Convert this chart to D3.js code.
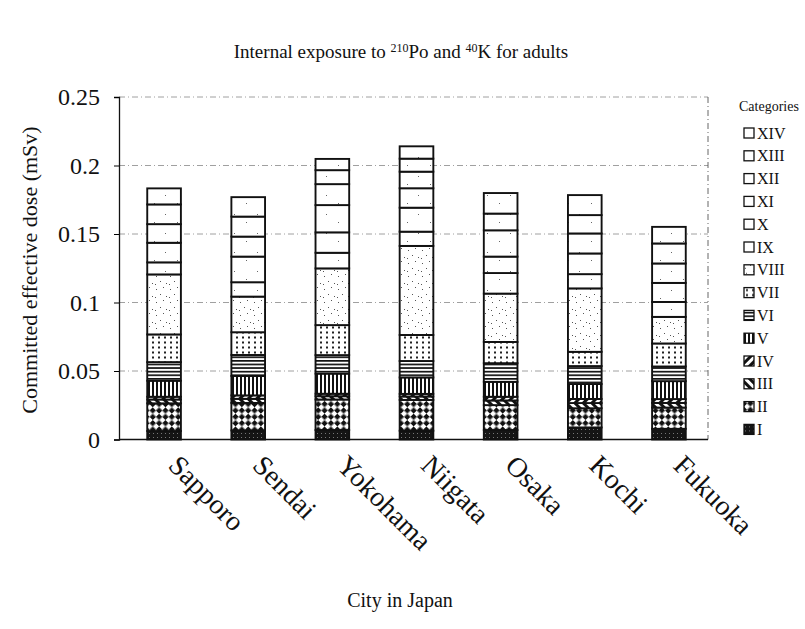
<!DOCTYPE html>
<html><head><meta charset="utf-8">
<script src="https://cdn.jsdelivr.net/npm/d3@7"></script>
<style>body{margin:0;background:#fff}svg text{font-family:"Liberation Serif","Times New Roman",serif;fill:#111}</style>
</head><body>
<svg id="chart" width="805" height="629"></svg>
<script>
// ---- data ----
const cities = ["Sapporo","Sendai","Yokohama","Niigata","Osaka","Kochi","Fukuoka"];
const categories = ["I","II","III","IV","V","VI","VII","VIII","IX","X","XI","XII","XIII","XIV"];
const catI    = [0.0062, 0.0066, 0.0069, 0.0064, 0.0069, 0.0088, 0.0078];
const catII   = [0.0202, 0.0201, 0.0223, 0.0225, 0.0182, 0.0140, 0.0155];
const catIII  = [0.0028, 0.0030, 0.0024, 0.0025, 0.0034, 0.0038, 0.0034];
const catIV   = [0.0020, 0.0025, 0.0018, 0.0019, 0.0027, 0.0030, 0.0028];
const catV    = [0.0117, 0.0142, 0.0147, 0.0120, 0.0109, 0.0109, 0.0131];
const catVI   = [0.0136, 0.0153, 0.0135, 0.0120, 0.0136, 0.0131, 0.0107];
const catVII  = [0.0202, 0.0166, 0.0219, 0.0190, 0.0155, 0.0104, 0.0168];
const catVIII = [0.0438, 0.0260, 0.0414, 0.0650, 0.0353, 0.0463, 0.0194];
const catIX   = [0.0088, 0.0105, 0.0114, 0.0104, 0.0150, 0.0104, 0.0109];
const catX    = [0.0143, 0.0187, 0.0149, 0.0175, 0.0120, 0.0151, 0.0139];
const catXI   = [0.0136, 0.0146, 0.0199, 0.0142, 0.0192, 0.0146, 0.0142];
const catXII  = [0.0144, 0.0146, 0.0153, 0.0121, 0.0122, 0.0134, 0.0146];
const catXIII = [0.0117, 0.0142, 0.0102, 0.0095, 0.0150, 0.0146, 0.0121];
const catXIV  = [0.0000, 0.0000, 0.0082, 0.0090, 0.0000, 0.0000, 0.0000];
const yTicks = [0, 0.05, 0.1, 0.15, 0.2, 0.25];
const yTickLabels = ["0", "0.05", "0.1", "0.15", "0.2", "0.25"];

const seriesValues = [catI,catII,catIII,catIV,catV,catVI,catVII,catVIII,catIX,catX,catXI,catXII,catXIII,catXIV];
const table = cities.map((c, i) => {
  const row = {city: c};
  categories.forEach((k, j) => row[k] = seriesValues[j][i]);
  return row;
});

// ---- layout ----
const svg = d3.select("#chart");
const frame = {left: 119, right: 708, top: 97, bottom: 439.5};
const x = d3.scaleBand().domain(cities).range([122, 711]).paddingInner(0.6).paddingOuter(0.3);
const y = d3.scaleLinear().domain([0, 0.25]).range([frame.bottom, frame.top]);

// ---- patterns ----
const defs = svg.append("defs");
function pat(id, w, h, build, transform) {
  const p = defs.append("pattern").attr("id", id).attr("patternUnits", "userSpaceOnUse")
    .attr("width", w).attr("height", h);
  if (transform) p.attr("patternTransform", transform);
  p.append("rect").attr("width", w).attr("height", h).attr("fill", "#fff");
  build(p);
}
pat("pI", 4, 4, p => {
  p.append("rect").attr("width", 4).attr("height", 4).attr("fill", "#151515");
  p.append("rect").attr("x", 1).attr("y", 1).attr("width", 1).attr("height", 1).attr("fill", "#777");
});
pat("pII", 9, 9, p => {
  p.append("rect").attr("width", 4.5).attr("height", 4.5).attr("fill", "#111");
  p.append("rect").attr("x", 4.5).attr("y", 4.5).attr("width", 4.5).attr("height", 4.5).attr("fill", "#111");
}, "rotate(45)");
pat("pIII", 6, 6, p => {
  p.append("rect").attr("width", 3).attr("height", 6).attr("fill", "#111");
}, "rotate(-45)");
pat("pIV", 6, 6, p => {
  p.append("rect").attr("width", 3).attr("height", 6).attr("fill", "#111");
}, "rotate(45)");
pat("pV", 4, 4, p => {
  p.append("rect").attr("width", 2).attr("height", 4).attr("fill", "#111");
});
pat("pVI", 4, 3.6, p => {
  p.append("rect").attr("width", 4).attr("height", 1.7).attr("fill", "#111");
});
pat("pVII", 6, 5, p => {
  p.append("rect").attr("x", 2).attr("y", 1.5).attr("width", 2).attr("height", 2).attr("fill", "#222");
});
pat("pVIII", 14, 13, p => {
  [[2,3],[9,1],[6,8],[12,10],[1,11]].forEach(d =>
    p.append("rect").attr("x", d[0]).attr("y", d[1]).attr("width", 1).attr("height", 1).attr("fill", "#555"));
});
pat("pUp", 23, 19, p => {
  [[4,5],[16,13]].forEach(d =>
    p.append("rect").attr("x", d[0]).attr("y", d[1]).attr("width", 1).attr("height", 1).attr("fill", "#666"));
});
const fills = {I:"pI",II:"pII",III:"pIII",IV:"pIV",V:"pV",VI:"pVI",VII:"pVII",VIII:"pVIII",
  IX:"pUp",X:"pUp",XI:"pUp",XII:"pUp",XIII:"pUp",XIV:"pUp"};

// ---- grid ----
const grid = svg.append("g");
grid.selectAll("line.h").data(yTicks.filter(d => d > 0)).join("line")
  .attr("x1", frame.left).attr("x2", frame.right)
  .attr("y1", d => y(d)).attr("y2", d => y(d))
  .attr("stroke", "#888").attr("stroke-width", 0.8).attr("stroke-dasharray", "6,3,1,3");
grid.append("line").attr("x1", frame.right).attr("x2", frame.right)
  .attr("y1", frame.top).attr("y2", frame.bottom)
  .attr("stroke", "#555").attr("stroke-width", 0.9).attr("stroke-dasharray", "6,3,1,3");

// ---- bars ----
const stack = d3.stack().keys(categories)(table);
svg.append("g").selectAll("g").data(stack).join("g")
  .attr("fill", d => `url(#${fills[d.key]})`)
  .selectAll("rect").data(d => d).join("rect")
  .attr("x", d => x(d.data.city))
  .attr("width", x.bandwidth())
  .attr("y", d => y(d[1]))
  .attr("height", d => y(d[0]) - y(d[1]))
  .attr("stroke", "#111").attr("stroke-width", 1.9);

// ---- axes ----
const yAxis = svg.append("g").attr("transform", `translate(${frame.left},0)`)
  .call(d3.axisLeft(y).tickValues(yTicks).tickFormat((d, i) => yTickLabels[i]).tickSize(5).tickPadding(14));
yAxis.select(".domain").attr("stroke", "#111").attr("stroke-width", 1.3);
yAxis.selectAll("text").attr("font-size", 24).attr("font-family", "Liberation Serif");
svg.append("line").attr("x1", frame.left).attr("x2", frame.right)
  .attr("y1", frame.bottom).attr("y2", frame.bottom).attr("stroke", "#111").attr("stroke-width", 1.5);

// x labels (rotated)
svg.append("g").selectAll("text").data(cities).join("text")
  .attr("transform", d => `translate(${x(d) + x.bandwidth()/2 + 3},467) rotate(45)`)
  .attr("font-size", 28).attr("text-anchor", "start").text(d => d);

// titles
const t = svg.append("text").attr("x", 401).attr("y", 58).attr("text-anchor", "middle").attr("font-size", 19);
t.append("tspan").text("Internal exposure to ");
t.append("tspan").attr("font-size", 12).attr("dy", -6).text("210");
t.append("tspan").attr("dy", 6).text("Po and ");
t.append("tspan").attr("font-size", 12).attr("dy", -6).text("40");
t.append("tspan").attr("dy", 6).text("K for adults");

svg.append("text").attr("transform", "translate(37,270) rotate(-90)")
  .attr("text-anchor", "middle").attr("font-size", 22).text("Committed effective dose (mSv)");
svg.append("text").attr("x", 400).attr("y", 607).attr("text-anchor", "middle").attr("font-size", 20).text("City in Japan");

// legend
const leg = svg.append("g");
leg.append("text").attr("x", 739).attr("y", 111).attr("font-size", 14).text("Categories");
const legCats = categories.slice().reverse();
const li = leg.selectAll("g.li").data(legCats).join("g")
  .attr("transform", (d, i) => `translate(744,${133 + i * 22.8})`);
li.append("rect").attr("x", 0).attr("y", -5).attr("width", 10).attr("height", 10)
  .attr("fill", d => `url(#${fills[d]})`).attr("stroke", "#111").attr("stroke-width", 1.3);
li.append("text").attr("x", 13).attr("y", 5.5).attr("font-size", 16).text(d => d);
</script>
</body></html>
